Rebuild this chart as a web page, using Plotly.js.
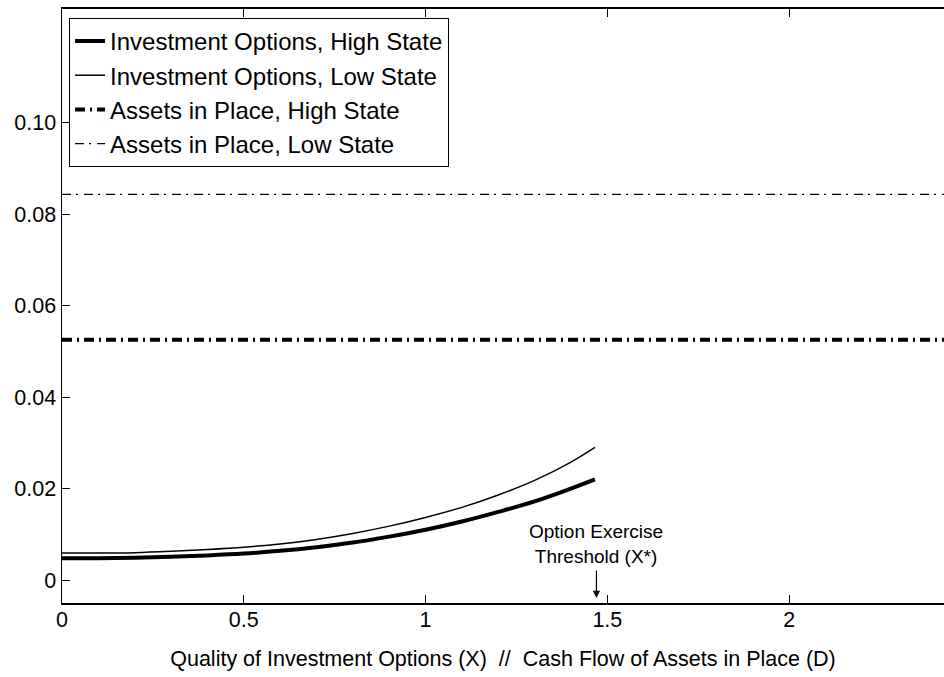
<!DOCTYPE html>
<html>
<head>
<meta charset="utf-8">
<script src="https://cdn.plot.ly/plotly-3.0.1.min.js"></script>
<style>html,body{margin:0;padding:0;background:#fff;}#chart{width:944px;height:677px;}</style>
</head>
<body>
<div id="chart"></div>
<script>
// Data
var xOptions = [0, 0.1, 0.2, 0.3, 0.4, 0.5, 0.6, 0.7, 0.8, 0.9, 1.0, 1.1, 1.2, 1.3, 1.4, 1.466];
var optionsHigh = [0.0048, 0.0048, 0.0049, 0.0051, 0.0054, 0.0058, 0.0064, 0.0072, 0.0082, 0.0095, 0.0110, 0.0128, 0.0149, 0.0172, 0.0200, 0.0220];
var optionsLow  = [0.0059, 0.0059, 0.0060, 0.0063, 0.0067, 0.0072, 0.0079, 0.0089, 0.0102, 0.0118, 0.0137, 0.0159, 0.0186, 0.0218, 0.0258, 0.0290];
var xAssets = [0, 2.5];
var assetsHigh = [0.0525, 0.0525];
var assetsLow = [0.0843, 0.0843];
var seriesNames = ["Investment Options, High State", "Investment Options, Low State", "Assets in Place, High State", "Assets in Place, Low State"];
var yTickVals = [0, 0.02, 0.04, 0.06, 0.08, 0.10];
var yTickText = ["0", "0.02", "0.04", "0.06", "0.08", "0.10"];
var xTickVals = [0, 0.5, 1, 1.5, 2];
var xTickText = ["0", "0.5", "1", "1.5", "2"];
var thresholdX = 1.47;

var FONT = "Liberation Sans, Arial, Helvetica, sans-serif";

var traces = [
  {x: xOptions, y: optionsHigh, name: seriesNames[0], mode: "lines", line: {color: "#000", width: 4, shape: "spline"}},
  {x: xOptions, y: optionsLow, name: seriesNames[1], mode: "lines", line: {color: "#000", width: 1.5, shape: "spline"}},
  {x: xAssets, y: assetsHigh, name: seriesNames[2], mode: "lines", line: {color: "#000", width: 4, dash: "10px,5px,2px,5px"}},
  {x: xAssets, y: assetsLow, name: seriesNames[3], mode: "lines", line: {color: "#000", width: 1.3, dash: "9px,5px,2px,6px"}}
];

var layout = {
  width: 944, height: 677,
  margin: {l: 62, r: 0, t: 9, b: 74, pad: 0},
  paper_bgcolor: "#fff", plot_bgcolor: "#fff",
  font: {family: FONT, color: "#000", size: 22},
  showlegend: true,
  legend: {
    x: 0.008, y: 0.985, xanchor: "left", yanchor: "top",
    bgcolor: "#fff", bordercolor: "#000", borderwidth: 1,
    font: {family: FONT, size: 24, color: "#000"},
    tracegroupgap: 0, itemwidth: 30
  },
  xaxis: {
    range: [0, 2.426], tickvals: xTickVals, ticktext: xTickText,
    ticks: "inside", ticklen: 8, tickwidth: 1, tickcolor: "#000",
    showline: true, linecolor: "#000", linewidth: 2, mirror: "ticks",
    showgrid: false, zeroline: false,
    tickfont: {family: FONT, size: 21.5, color: "#000"},
    ticklabelstandoff: -4,
    title: {text: "Quality of Investment Options (X)  //  Cash Flow of Assets in Place (D)", font: {family: FONT, size: 21.5, color: "#000"}, standoff: 20}
  },
  yaxis: {
    range: [-0.005, 0.1248], tickvals: yTickVals, ticktext: yTickText,
    ticks: "inside", ticklen: 8, tickwidth: 1, tickcolor: "#000",
    showline: true, linecolor: "#000", linewidth: 1.5, mirror: false,
    showgrid: false, zeroline: false,
    tickfont: {family: FONT, size: 21.5, color: "#000"},
    ticklabelstandoff: 0
  },
  annotations: [
    {
      x: thresholdX, y: -0.0039, xref: "x", yref: "y",
      text: "Option Exercise<br>Threshold (X*)",
      showarrow: true, ax: 0, ay: -54, arrowhead: 2, arrowsize: 1.2, arrowwidth: 1.2, arrowcolor: "#000",
      startstandoff: 2,
      font: {family: FONT, size: 19, color: "#000"}
    }
  ]
};

Plotly.newPlot("chart", traces, layout, {displayModeBar: false, staticPlot: true});
</script>
</body>
</html>
